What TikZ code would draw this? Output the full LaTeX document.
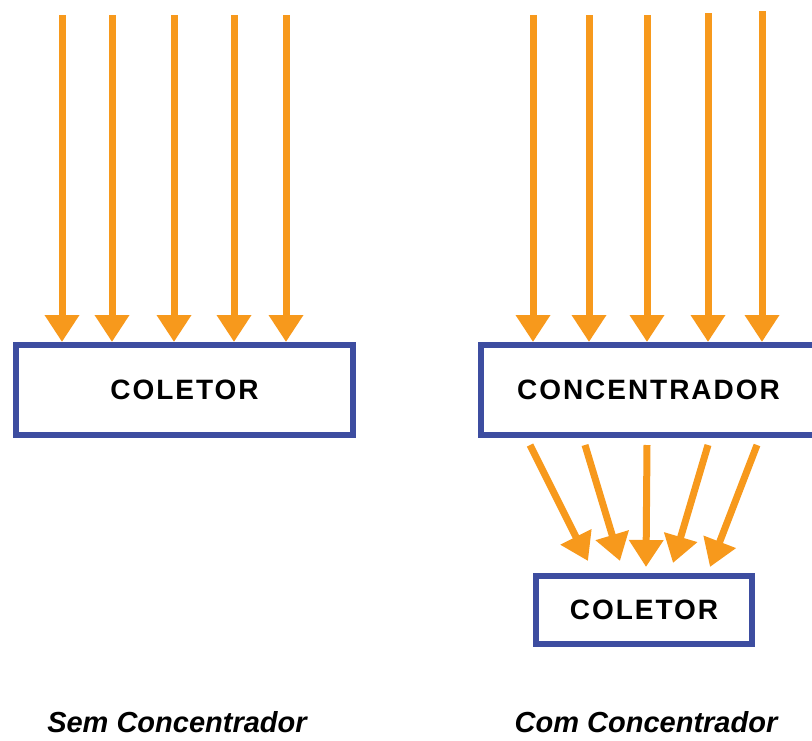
\documentclass[tikz,border=0pt]{standalone}
\usepackage{fontspec}
\setmainfont{Liberation Sans}
\newfontfamily\boxfont{Liberation Sans}[LetterSpace=7]
\usepackage{xcolor}
\usepackage{tikz}
\usetikzlibrary{positioning,calc,arrows.meta}
\definecolor{COrange}{HTML}{F7991C}
\definecolor{CBlue}{HTML}{3D4DA0}

\begin{document}
\begin{tikzpicture}[x=1pt, y=-1pt,
  every node/.style={text=black},
  box/.style ={draw=CBlue, line width=6pt, fill=white, minimum height=90pt, inner sep=0pt,
               font=\boxfont\bfseries\fontsize{28}{30}\selectfont},
  ray/.style ={draw=COrange, line width=7pt, -{Triangle[length=27pt,width=33pt]}},
  caption/.style={inner sep=0pt, anchor=base, font=\bfseries\itshape\fontsize{29}{32}\selectfont}]
\useasboundingbox (0,0) rectangle (812,740);
\node[box, minimum width=337pt] (coletorA) at (184.5,390) {COLETOR};
\node[box, minimum width=335pt] (concentrador) at (648.5,390) {CONCENTRADOR};
\node[box, minimum width=216pt, minimum height=68pt] (coletorB) at (644,610) {COLETOR};
\foreach \x [count=\k] in {62,112,174,234,286} {
  \coordinate (sA\k) at (\x,15);
  \draw[ray] (sA\k) -- (sA\k |- coletorA.north);}
\foreach \x/\y [count=\k] in {533/15,589/15,647/15,708/13,762/11} {
  \coordinate (sB\k) at (\x,\y);
  \draw[ray] (sB\k) -- (sB\k |- concentrador.north);}
\foreach \a/\b/\c [count=\k] in {530/588/561,585/620/561,647/646/567,708/673/563,757/710/567} {
  \coordinate (fB\k) at (\a,445);
  \coordinate (tB\k) at (\b,\c);
  \draw[ray] (fB\k) -- (tB\k);}
\node[caption] (capA) at (177,732) {Sem Concentrador};
\node[caption] (capB) at (646,732) {Com Concentrador};
\end{tikzpicture}
\end{document}
